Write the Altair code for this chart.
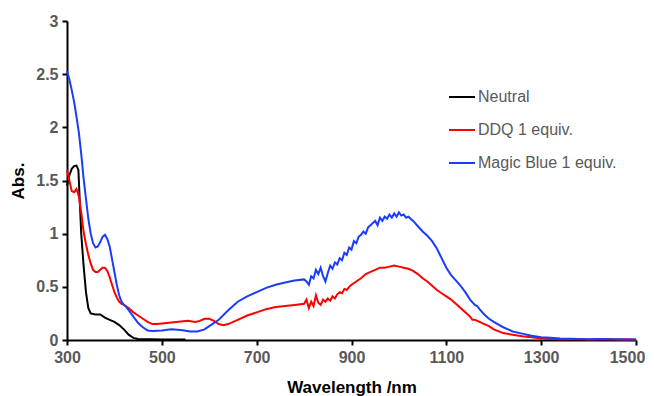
import altair as alt
import pandas as pd

series_names = ["Neutral", "DDQ 1 equiv.", "Magic Blue 1 equiv."]
series_colors = ["#000000", "#FF0000", "#1A3CFF"]

neutral_wl = [300, 305, 310, 315, 320, 324, 327, 330, 335, 340, 345, 350, 360, 370, 380, 390, 400, 410, 420, 430, 440, 450, 500, 550]
neutral_abs = [1.45, 1.55, 1.61, 1.635, 1.64, 1.6, 1.3, 1.0, 0.7, 0.45, 0.3, 0.25, 0.24, 0.24, 0.21, 0.19, 0.17, 0.14, 0.1, 0.05, 0.02, 0.01, 0.005, 0.005]

ddq_wl = [300, 305, 310, 315, 320, 325, 330, 335, 340, 345, 350, 355, 360, 365, 370, 375, 380, 385, 390, 395,
          400, 405, 410, 415, 420, 430, 440, 450, 460, 470, 480, 490, 500, 520, 540, 555, 570, 580, 590, 600,
          610, 620, 630, 640, 660, 680, 700, 720, 740, 760, 780, 800,
          805, 810, 815, 820, 825, 830, 835, 840, 845, 850, 855, 860, 865, 870, 875, 880, 885, 890, 895, 900,
          910, 920, 930, 940, 950, 960, 970, 980, 990, 1000, 1010, 1020, 1030, 1040, 1050, 1060, 1070, 1080,
          1090, 1100, 1110, 1120, 1130, 1140, 1150, 1155, 1160, 1170, 1180, 1190, 1200, 1220, 1240, 1260,
          1280, 1300, 1320, 1340, 1360, 1380, 1400, 1420, 1440, 1460, 1480, 1500]
ddq_abs = [1.6, 1.5, 1.4, 1.39, 1.42, 1.35, 1.2, 1.02, 0.9, 0.8, 0.72, 0.66, 0.64, 0.64, 0.66, 0.68, 0.68, 0.65, 0.59, 0.52,
           0.45, 0.4, 0.36, 0.34, 0.33, 0.3, 0.26, 0.23, 0.2, 0.17, 0.15, 0.15, 0.155, 0.165, 0.175, 0.18, 0.17, 0.18, 0.2, 0.2,
           0.18, 0.15, 0.14, 0.15, 0.19, 0.23, 0.26, 0.29, 0.31, 0.32, 0.33, 0.34,
           0.38, 0.3, 0.36, 0.32, 0.42, 0.35, 0.33, 0.38, 0.36, 0.39, 0.37, 0.41, 0.39, 0.43, 0.45, 0.44, 0.48, 0.47, 0.5, 0.52,
           0.55, 0.58, 0.62, 0.64, 0.66, 0.68, 0.68, 0.69, 0.7, 0.69, 0.68, 0.67, 0.65, 0.62, 0.58, 0.55, 0.51, 0.47,
           0.44, 0.41, 0.38, 0.34, 0.3, 0.26, 0.22, 0.19, 0.19, 0.17, 0.15, 0.13, 0.1, 0.065, 0.05, 0.035,
           0.025, 0.015, 0.01, 0.008, 0.006, 0.01, 0.004, 0.006, 0.01, 0.005, 0.008, 0.005]

mb_wl = [300, 305, 310, 315, 320, 325, 330, 335, 340, 345, 350, 355, 360, 365, 370, 375, 380, 385, 390, 395,
         400, 405, 410, 415, 420, 425, 430, 440, 450, 460, 470, 480, 500, 520, 540, 560, 575, 590, 600, 620,
         640, 660, 680, 700, 720, 740, 760, 780, 800,
         805, 810, 815, 820, 825, 830, 835, 840, 845, 850, 855, 860, 865, 870, 875, 880, 885, 890, 895, 900,
         905, 910, 915, 920, 925, 930, 935, 940, 945, 950, 955, 960, 965, 970, 975, 980, 985, 990, 995, 1000,
         1005, 1010, 1015, 1020, 1030, 1040, 1050, 1060, 1070, 1080, 1090, 1100, 1110, 1120, 1130, 1140, 1150,
         1160, 1165, 1170, 1180, 1190, 1200, 1220, 1240, 1260, 1280, 1300, 1320, 1340, 1360, 1380, 1400, 1420,
         1440, 1460, 1480, 1500]
mb_abs = [2.53, 2.45, 2.35, 2.24, 2.1, 1.95, 1.75, 1.52, 1.33, 1.14, 1.0, 0.91, 0.87, 0.88, 0.92, 0.97, 0.99, 0.95, 0.88, 0.76,
          0.64, 0.52, 0.42, 0.36, 0.33, 0.31, 0.28, 0.22, 0.16, 0.12, 0.09, 0.085, 0.09, 0.1, 0.095, 0.08, 0.08, 0.1, 0.13, 0.19,
          0.28, 0.36, 0.41, 0.45, 0.49, 0.52, 0.54, 0.56, 0.57,
          0.55, 0.52, 0.6, 0.58, 0.66, 0.62, 0.68, 0.6, 0.55, 0.63, 0.7, 0.67, 0.73, 0.71, 0.77, 0.75, 0.82, 0.8, 0.87, 0.85,
          0.93, 0.91, 0.97, 0.99, 1.02, 1.0, 1.06, 1.08, 1.1, 1.12, 1.08, 1.15, 1.12, 1.16, 1.14, 1.18, 1.15, 1.19, 1.16, 1.2,
          1.17, 1.18, 1.15, 1.16, 1.12, 1.07, 1.02, 0.98, 0.93, 0.86, 0.77, 0.68, 0.61, 0.56, 0.51, 0.45, 0.38,
          0.33, 0.32, 0.29, 0.24, 0.2, 0.17, 0.12, 0.08, 0.06, 0.04, 0.025, 0.02, 0.015, 0.012, 0.01, 0.008, 0.01,
          0.006, 0.008, 0.005, 0.005]

x_ticks = [300, 500, 700, 900, 1100, 1300, 1500]
y_ticks = [0, 0.5, 1, 1.5, 2, 2.5, 3]

frames = []
for name, wl, ab in [(series_names[0], neutral_wl, neutral_abs),
                     (series_names[1], ddq_wl, ddq_abs),
                     (series_names[2], mb_wl, mb_abs)]:
    frames.append(pd.DataFrame({"Wavelength": wl, "Abs": ab, "Series": name}))
df = pd.concat(frames, ignore_index=True)

FONT = "Liberation Sans, Arial"

chart = alt.Chart(df).mark_line(strokeWidth=2).encode(
    x=alt.X("Wavelength:Q",
            scale=alt.Scale(domain=[300, 1500], nice=False, zero=False),
            axis=alt.Axis(title="Wavelength /nm", values=x_ticks, format="d", labelFlush=False,
                          labelOffset={"condition": {"test": "datum.value == 1500", "value": -9}, "value": 0})),
    y=alt.Y("Abs:Q",
            scale=alt.Scale(domain=[0, 3], nice=False),
            axis=alt.Axis(title="Abs.", values=y_ticks, format="~g", labelFlush=False)),
    color=alt.Color("Series:N",
                    scale=alt.Scale(domain=series_names, range=series_colors),
                    legend=alt.Legend(title=None, orient="none", legendX=381, legendY=62,
                                      symbolType="stroke", symbolSize=676, symbolStrokeWidth=2,
                                      labelFontSize=16, labelFont=FONT, labelColor="#595959",
                                      labelOffset=2, rowPadding=11)),
    order=alt.Order("Wavelength:Q"),
).properties(
    width=569, height=319,
    autosize=alt.AutoSizeParams(type="none"),
    padding={"left": 59, "top": 13, "right": 10, "bottom": 56},
).configure_view(
    stroke=None
).configure_axis(
    grid=False,
    domainColor="#000000", domainWidth=2,
    tickColor="#000000", tickWidth=2, tickSize=5,
    labelFont=FONT, labelFontSize=16, labelFontWeight="bold", labelColor="#595959",
    titleFont=FONT, titleFontSize=17, titleFontWeight="bold", titleColor="#000000",
    labelPadding=4,
).configure_axisX(
    titlePadding=14,
).configure_axisY(
    titlePadding=8,
)

chart.save("out.html", embed_options={"renderer": "svg", "actions": False})
